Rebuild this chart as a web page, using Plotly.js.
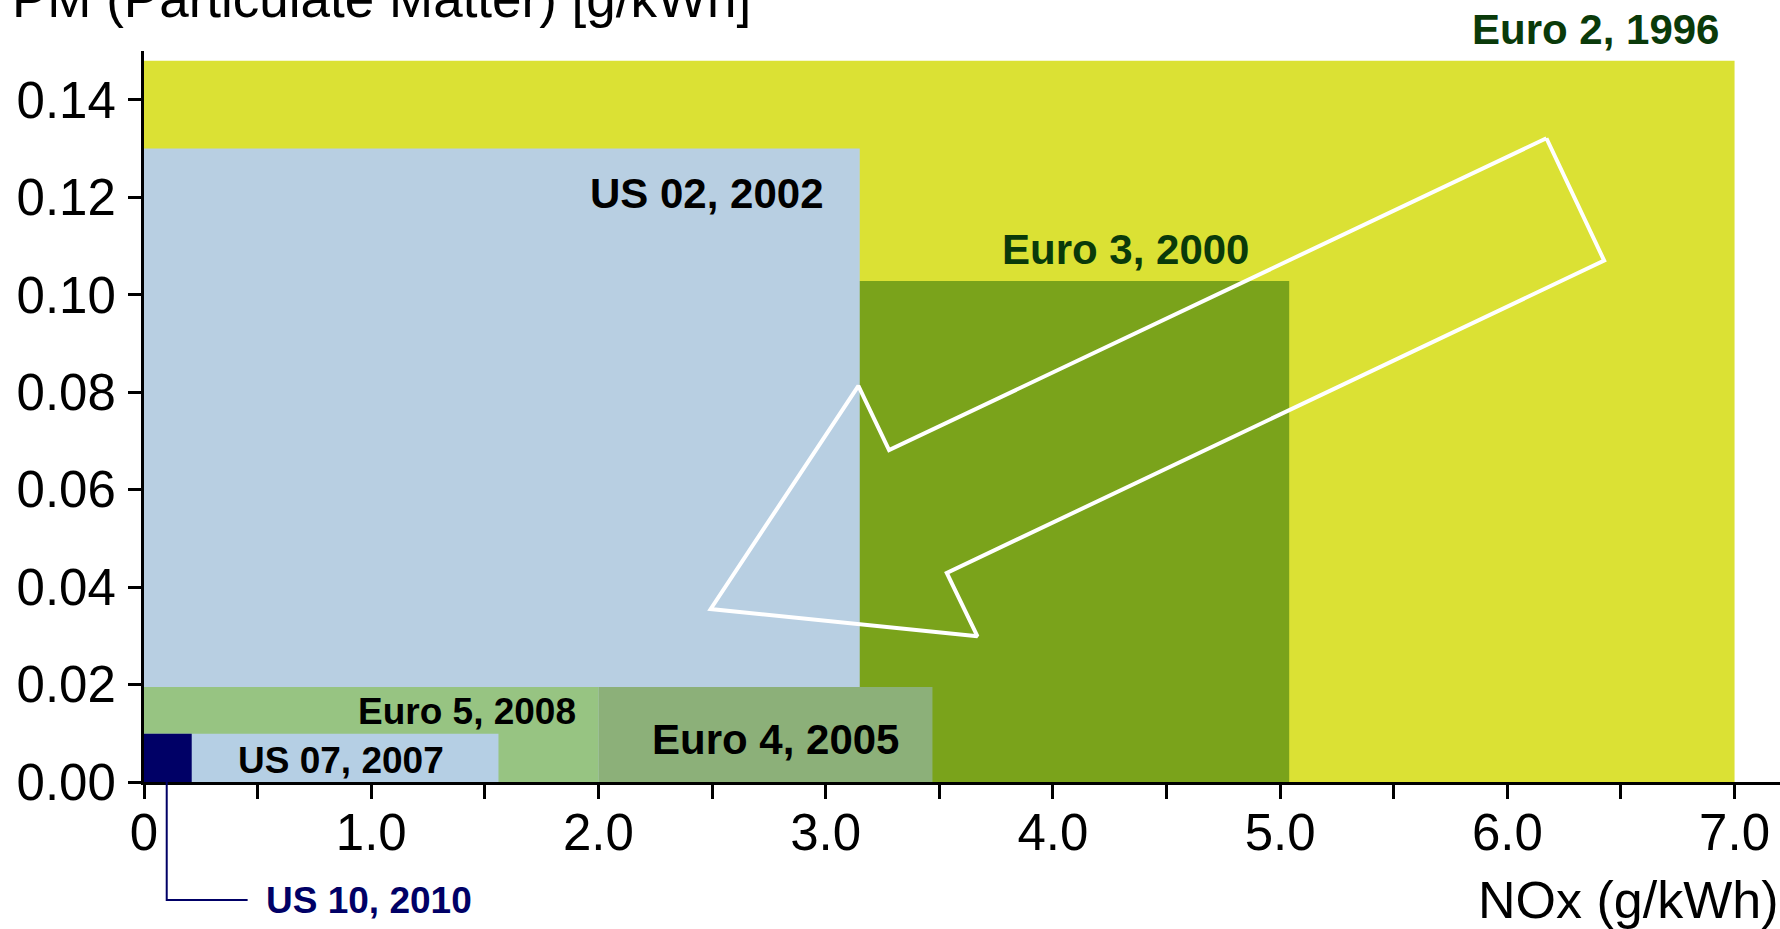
<!DOCTYPE html>
<html>
<head>
<meta charset="utf-8">
<script src="https://cdn.plot.ly/plotly-3.0.1.min.js"></script>
<style>
  html, body { margin: 0; padding: 0; background: #ffffff; }
  #chart { width: 1780px; height: 929px; }
</style>
</head>
<body>
<div id="chart"></div>
<script>
// ---- Data (NOx in g/kWh, PM in g/kWh) ----
const standards = ['Euro 2, 1996', 'Euro 3, 2000', 'US 02, 2002', 'Euro 4, 2005', 'Euro 5, 2008', 'US 07, 2007', 'US 10, 2010'];
const noxMin    = [0,     0,      0,     2.0,    0,      0,      0];
const noxMax    = [7.0,   5.04,   3.15,  3.47,   2.0,    1.56,   0.21];
const pmMin     = [0,     0,      0,     0,      0,      0,      0];
const pmMax     = [0.148, 0.1028, 0.130, 0.0195, 0.0195, 0.0099, 0.0099];
const boxColors = ['#dbe134', '#7aa31b', '#b8cfe2', '#8cb079', '#97c482', '#b5cfe4', '#000066'];

// Label placement (data coords) and styling
const labelX     = [6.94,   4.318,  2.478,  2.777,   1.422,   0.867,   0.53];
const labelY     = [0.1545, 0.1092, 0.1207, 0.00872, 0.01446, 0.00449, -0.0243];
const labelAlign = ['right', 'center', 'center', 'center', 'center', 'center', 'left'];
const labelSize  = [42, 42, 42, 42, 37, 37, 37];
const labelColor = ['#0a3a0a', '#0a3a0a', '#000000', '#000000', '#000000', '#000000', '#000066'];

// Leader line for US 10 label (data coords)
const leaderX = [0.1, 0.1, 0.456];
const leaderY = [0, -0.0242, -0.0242];

// Hollow arrow outline (trend toward lower limits)
const arrowX = [6.172, 3.279, 3.144, 2.494, 3.668, 3.533, 6.426, 6.172];
const arrowY = [0.1321, 0.0681, 0.0813, 0.0355, 0.0299, 0.0429, 0.1070, 0.1321];

// Axis ticks
const xTickVals = [0, 1, 2, 3, 4, 5, 6, 7];
const xTickText = ['0', '1.0', '2.0', '3.0', '4.0', '5.0', '6.0', '7.0'];
const yTickVals = [0, 0.02, 0.04, 0.06, 0.08, 0.10, 0.12, 0.14];

const X_RANGE = [0, 7.2];
const Y_RANGE = [0, 0.15];
const FONT = 'Liberation Sans, Arial, Helvetica, sans-serif';

const toPaperX = v => (v - X_RANGE[0]) / (X_RANGE[1] - X_RANGE[0]);
const toPaperY = v => (v - Y_RANGE[0]) / (Y_RANGE[1] - Y_RANGE[0]);

const shapes = standards.map((s, i) => ({
  type: 'rect', xref: 'x', yref: 'y', layer: 'below',
  x0: noxMin[i], x1: noxMax[i], y0: pmMin[i], y1: pmMax[i],
  fillcolor: boxColors[i], line: { width: 0 }
}));

// leader line drawn in paper coords so it is not clipped by the plot area
shapes.push({
  type: 'path', xref: 'paper', yref: 'paper', layer: 'above',
  path: 'M ' + leaderX.map((x, i) => toPaperX(x) + ',' + toPaperY(leaderY[i])).join(' L '),
  line: { color: '#000066', width: 2 }
});

const annotations = standards.map((s, i) => {
  const inRange = labelY[i] >= Y_RANGE[0] && labelY[i] <= Y_RANGE[1];
  return {
    xref: inRange ? 'x' : 'paper', yref: inRange ? 'y' : 'paper',
    x: inRange ? labelX[i] : toPaperX(labelX[i]),
    y: inRange ? labelY[i] : toPaperY(labelY[i]),
    text: s, showarrow: false, xanchor: labelAlign[i], yanchor: 'middle',
    font: { family: FONT, size: labelSize[i], color: labelColor[i], weight: 'bold' }
  };
});

annotations.push({
  xref: 'paper', yref: 'paper', x: 1, y: -0.161, xanchor: 'right', yanchor: 'middle',
  text: 'NOx (g/kWh)', showarrow: false,
  font: { family: FONT, size: 52, color: '#000000' }
});
annotations.push({
  xref: 'paper', yref: 'paper', x: -0.082, y: 1.072, xanchor: 'left', yanchor: 'middle',
  text: 'PM (Particulate Matter) [g/kWh]', showarrow: false,
  font: { family: FONT, size: 53, color: '#000000' }
});

const traces = [
  {
    type: 'scatter', mode: 'lines', x: arrowX, y: arrowY,
    line: { color: '#ffffff', width: 4 }, hoverinfo: 'skip', showlegend: false
  }
];

const layout = {
  width: 1780, height: 929,
  margin: { l: 144, r: 0, t: 51, b: 147 },
  paper_bgcolor: '#ffffff', plot_bgcolor: 'rgba(0,0,0,0)',
  showlegend: false, hovermode: false,
  font: { family: FONT, color: '#000000' },
  xaxis: {
    range: X_RANGE, fixedrange: true, automargin: false,
    showgrid: false, zeroline: false,
    showline: true, linecolor: '#000000', linewidth: 3,
    ticks: 'outside', ticklen: 14, tickwidth: 3, tickcolor: '#000000',
    tickmode: 'array', tickvals: xTickVals, ticktext: xTickText,
    ticklabelstandoff: -10,
    tickfont: { family: FONT, size: 51, color: '#000000' },
    minor: { dtick: 0.5, tick0: 0, ticks: 'outside', ticklen: 14, tickwidth: 3, tickcolor: '#000000', showgrid: false }
  },
  yaxis: {
    range: Y_RANGE, fixedrange: true, automargin: false,
    showgrid: false, zeroline: false,
    showline: true, linecolor: '#000000', linewidth: 3,
    ticks: 'outside', ticklen: 13, tickwidth: 3, tickcolor: '#000000',
    tickmode: 'array', tickvals: yTickVals, tickformat: '.2f',
    ticklabelstandoff: 2,
    tickfont: { family: FONT, size: 51, color: '#000000' }
  },
  shapes: shapes,
  annotations: annotations
};

Plotly.newPlot('chart', traces, layout, { displayModeBar: false, staticPlot: true });
</script>
</body>
</html>
